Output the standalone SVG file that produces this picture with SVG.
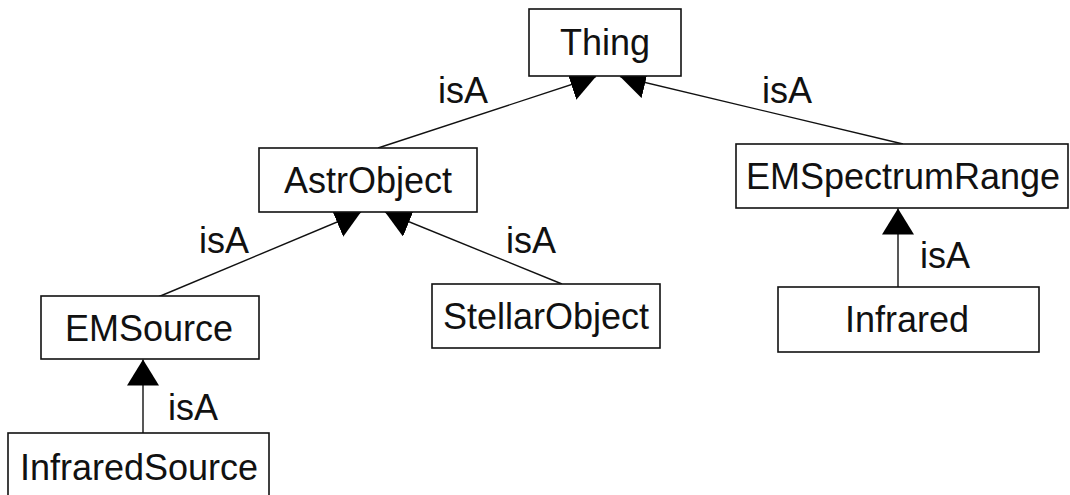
<svg xmlns="http://www.w3.org/2000/svg" width="1070" height="495" viewBox="0 0 1070 495">
<style>
.box{fill:#fff;stroke:#111;stroke-width:1.6}
.lbl{font-family:"Liberation Sans",Arial,sans-serif;font-size:36px;fill:#111;text-anchor:middle}
.edge{font-family:"Liberation Sans",Arial,sans-serif;font-size:36px;fill:#111}
.conn{stroke:#111;stroke-width:1.4;fill:none}
</style>
<defs>
<marker id="tri" markerUnits="userSpaceOnUse" markerWidth="28" markerHeight="34" refX="26" refY="16" orient="auto" viewBox="0 0 28 34">
<path d="M0,0 L26,16 L0,32 z" fill="#000"/>
</marker>
</defs>
<rect width="1070" height="495" fill="#fff"/>
<g id="connectors">
<line class="conn" x1="378" y1="148" x2="596" y2="76.5" marker-end="url(#tri)"/>
<line class="conn" x1="903" y1="144" x2="620" y2="76.5" marker-end="url(#tri)"/>
<line class="conn" x1="158" y1="297" x2="361" y2="212" marker-end="url(#tri)"/>
<line class="conn" x1="562" y1="284" x2="385" y2="212" marker-end="url(#tri)"/>
<line class="conn" x1="898" y1="287" x2="898" y2="208.5" marker-end="url(#tri)"/>
<line class="conn" x1="143" y1="433" x2="143" y2="359.5" marker-end="url(#tri)"/>
<text class="edge" x="438" y="103">isA</text>
<text class="edge" x="762" y="103">isA</text>
<text class="edge" x="199" y="253">isA</text>
<text class="edge" x="506" y="253">isA</text>
<text class="edge" x="920" y="268">isA</text>
<text class="edge" x="168" y="420">isA</text>
</g>
<g id="thing">
<rect class="box" x="529" y="9" width="152" height="67"/>
<text class="lbl" x="605" y="55">Thing</text>
</g>
<g id="astrobject">
<rect class="box" x="259" y="148" width="218" height="64"/>
<text class="lbl" x="368" y="193">AstrObject</text>
</g>
<g id="emspectrumrange">
<rect class="box" x="736" y="144" width="332" height="64"/>
<text class="lbl" x="903" y="189">EMSpectrumRange</text>
</g>
<g id="emsource">
<rect class="box" x="41" y="296" width="218" height="63"/>
<text class="lbl" x="149" y="341">EMSource</text>
</g>
<g id="stellarobject">
<rect class="box" x="432" y="284" width="228" height="64"/>
<text class="lbl" x="546" y="329">StellarObject</text>
</g>
<g id="infrared">
<rect class="box" x="778" y="287" width="261" height="65"/>
<text class="lbl" x="907" y="332">Infrared</text>
</g>
<g id="infraredsource">
<rect class="box" x="8" y="433" width="261" height="70"/>
<text class="lbl" x="139" y="480">InfraredSource</text>
</g>
</svg>
